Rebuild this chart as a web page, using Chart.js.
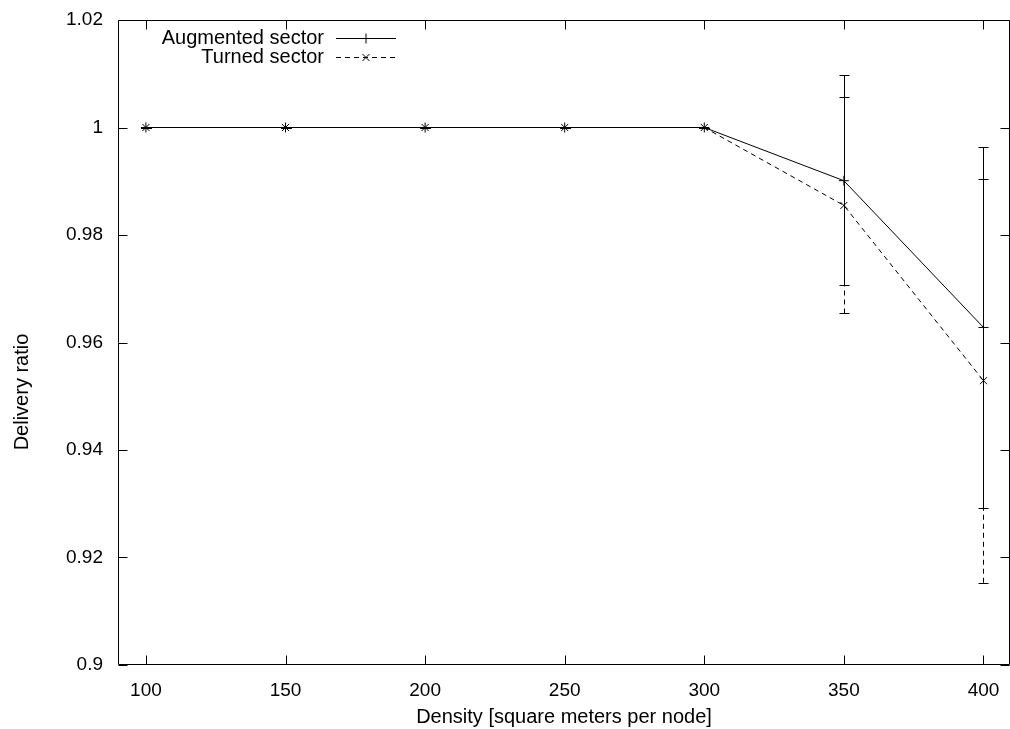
<!DOCTYPE html>
<html>
<head>
<meta charset="utf-8">
<script src="https://cdn.jsdelivr.net/npm/chart.js@4"></script>
<style>
  body { margin: 0; background: #fff; }
  canvas { display: block; }
</style>
</head>
<body>
<canvas id="bieuDo" width="1010" height="729"></canvas>
<script>
// du lieu doc tu hinh
const mat_do = [100, 150, 200, 250, 300, 350, 400];
const augmented = [1, 1, 1, 1, 1, 0.9901, 0.9628];
const augmentedLow = [1, 1, 1, 1, 1, 0.9707, 0.9293];
const augmentedHigh = [1, 1, 1, 1, 1, 1.0097, 0.9963];
const turned = [1, 1, 1, 1, 1, 0.9855, 0.9529];
const turnedLow = [1, 1, 1, 1, 1, 0.9654, 0.9153];
const turnedHigh = [1, 1, 1, 1, 1, 1.0056, 0.9905];
const xTicks = [100, 150, 200, 250, 300, 350, 400];
const yTicks = [0.9, 0.92, 0.94, 0.96, 0.98, 1, 1.02];

const FONT = "'Liberation Sans', Arial, sans-serif";

// ve error bar
const errorBars = {
    id: "errorBars",
    afterDatasetsDraw(chart) {
        const ctx = chart.ctx;
        const x = chart.scales.x, y = chart.scales.y;
        const sets = [
            { low: augmentedLow, high: augmentedHigh, dash: [] },
            { low: turnedLow, high: turnedHigh, dash: [5, 4] },
        ];
        ctx.save();
        ctx.strokeStyle = "#000";
        ctx.lineWidth = 1;
        sets.forEach((s) => {
            mat_do.forEach((v, i) => {
                const px = Math.round(x.getPixelForValue(v)) + 0.5;
                const y1 = y.getPixelForValue(s.low[i]);
                const y2 = y.getPixelForValue(s.high[i]);
                ctx.setLineDash(s.dash);
                ctx.beginPath();
                ctx.moveTo(px, y1);
                ctx.lineTo(px, y2);
                ctx.stroke();
                ctx.setLineDash([]);
                ctx.beginPath();
                ctx.moveTo(px - 5, Math.round(y1) + 0.5);
                ctx.lineTo(px + 5, Math.round(y1) + 0.5);
                ctx.moveTo(px - 5, Math.round(y2) + 0.5);
                ctx.lineTo(px + 5, Math.round(y2) + 0.5);
                ctx.stroke();
            });
        });
        ctx.restore();
    },
};

// khung, vach chia huong vao trong, chu thich, nhan truc y
const khung = {
    id: "khung",
    afterDraw(chart) {
        const ctx = chart.ctx;
        const a = chart.chartArea;
        const x = chart.scales.x, y = chart.scales.y;
        const L = Math.round(a.left) + 0.5, R = Math.round(a.right) - 0.5;
        const T = Math.round(a.top) + 0.5, B = Math.round(a.bottom) - 0.5;
        ctx.save();
        ctx.strokeStyle = "#000";
        ctx.lineWidth = 1;
        ctx.beginPath();
        ctx.rect(L, T, R - L, B - T);
        xTicks.forEach((v) => {
            const px = Math.round(x.getPixelForValue(v)) + 0.5;
            ctx.moveTo(px, B); ctx.lineTo(px, B - 9);
            ctx.moveTo(px, T); ctx.lineTo(px, T + 9);
        });
        yTicks.forEach((v) => {
            const py = Math.round(y.getPixelForValue(v)) + 0.5;
            ctx.moveTo(L, py); ctx.lineTo(L + 9, py);
            ctx.moveTo(R, py); ctx.lineTo(R - 9, py);
        });
        ctx.stroke();

        ctx.font = "20px " + FONT;
        ctx.fillStyle = "#000";
        ctx.textAlign = "right";
        ctx.textBaseline = "middle";
        const rows = [
            { text: "Augmented sector", dash: [], y: 38, style: "cross" },
            { text: "Turned sector", dash: [5, 4], y: 57, style: "crossRot" },
        ];
        rows.forEach((r) => {
            ctx.fillText(r.text, 324, r.y);
            ctx.setLineDash(r.dash);
            ctx.beginPath();
            ctx.moveTo(336, r.y + 0.5);
            ctx.lineTo(396, r.y + 0.5);
            ctx.stroke();
            ctx.setLineDash([]);
            Chart.helpers.drawPoint(ctx, { pointStyle: r.style, radius: 5, borderWidth: 1 }, 366, r.y + 0.5);
        });

        // nhan truc y
        ctx.translate(22, 392);
        ctx.rotate(-Math.PI / 2);
        ctx.textAlign = "center";
        ctx.fillText("Delivery ratio", 0, 0);
        ctx.restore();
    },
};

new Chart(document.getElementById("bieuDo"), {
    type: "line",
    data: {
        datasets: [
            {
                label: "Augmented sector",
                data: mat_do.map((v, i) => ({ x: v, y: augmented[i] })),
                borderColor: "#000",
                borderWidth: 1,
                pointStyle: "cross",
                pointRadius: 5,
                pointBorderColor: "#000",
                pointBorderWidth: 1,
                tension: 0,
            },
            {
                label: "Turned sector",
                data: mat_do.map((v, i) => ({ x: v, y: turned[i] })),
                borderColor: "#000",
                borderWidth: 1,
                borderDash: [5, 4],
                pointStyle: "crossRot",
                pointRadius: 5,
                pointBorderColor: "#000",
                pointBorderWidth: 1,
                tension: 0,
            },
        ],
    },
    options: {
        responsive: false,
        animation: false,
        layout: { autoPadding: false, padding: { top: 20, right: 0, left: 0, bottom: 0 } },
        plugins: { legend: { display: false }, tooltip: { enabled: false } },
        scales: {
            x: {
                type: "linear",
                min: 90,
                max: 409.5,
                afterBuildTicks: (s) => { s.ticks = xTicks.map((v) => ({ value: v })); },
                afterFit: (s) => { s.height = 64; s.paddingLeft = 0; s.paddingRight = 0; },
                grid: { display: false, drawTicks: false },
                border: { display: false },
                ticks: { color: "#000", font: { family: FONT, size: 19 }, padding: 14, maxRotation: 0 },
                title: { display: true, text: "Density [square meters per node]", color: "#000", font: { family: FONT, size: 20 }, padding: { top: 2, bottom: 0 } },
            },
            y: {
                min: 0.9,
                max: 1.02,
                afterBuildTicks: (s) => { s.ticks = yTicks.map((v) => ({ value: v })); },
                afterFit: (s) => { s.width = 118; s.paddingTop = 0; s.paddingBottom = 0; },
                grid: { display: false, drawTicks: false },
                border: { display: false },
                ticks: { color: "#000", font: { family: FONT, size: 19 }, padding: 15, callback: (v) => String(v) },
            },
        },
    },
    plugins: [errorBars, khung],
});
</script>
</body>
</html>
